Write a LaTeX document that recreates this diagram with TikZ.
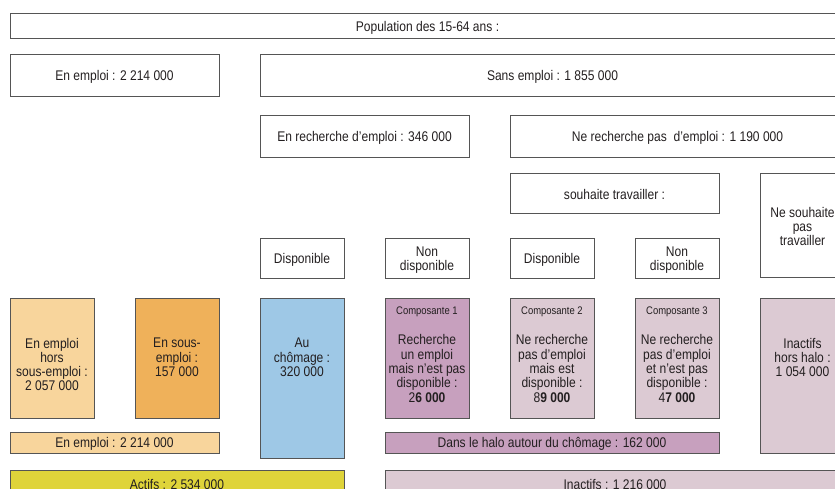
\documentclass[tikz,border=0pt]{standalone}
\usepackage{fontspec}
\setmainfont{Liberation Sans}[FakeStretch=0.86]
\definecolor{cpeach}{HTML}{F8D59C}
\definecolor{corange}{HTML}{EFB15A}
\definecolor{cblue}{HTML}{9EC8E6}
\definecolor{cpurple}{HTML}{C7A0BE}
\definecolor{cpink}{HTML}{DCCAD3}
\definecolor{cyellow}{HTML}{DFD43A}
\definecolor{cline}{HTML}{555555}
\definecolor{ctext}{HTML}{231F20}
\begin{document}
\begin{tikzpicture}[x=1pt,y=-1pt,
  box/.style={draw=cline, line width=0.8pt, inner sep=0pt, outer sep=0pt, anchor=north west},
  txt/.style={inner sep=0pt, align=center, text=ctext, font=\fontsize{14}{14.3}\selectfont},
  smalltxt/.style={inner sep=0pt, align=center, text=ctext, font=\fontsize{11}{13}\selectfont}]
\useasboundingbox (0,0) rectangle (835,489);
\clip (0,0) rectangle (835,489);
% row 1
\node[box, minimum width=835pt, minimum height=25pt] (pop) at (10,13) {};
\node[txt] (tpop) at (427.5,27.5) {Population des 15-64 ans :};
% row 2
\node[box, minimum width=209pt, minimum height=42pt] (emp) at (10,54) {};
\node[txt] (temp) at (114.5,76.5) {En emploi : 2 214 000};
\node[box, minimum width=585pt, minimum height=42pt] (sans) at (260,54) {};
\node[txt] (tsans) at (552.5,76.5) {Sans emploi : 1 855 000};
% row 3
\node[box, minimum width=209pt, minimum height=42pt] (rech) at (260,115) {};
\node[txt] (trech) at (364.5,137.5) {En recherche d’emploi : 346 000};
\node[box, minimum width=335pt, minimum height=42pt] (nrech) at (510,115) {};
\node[txt] (tnrech) at (677.5,137.5) {Ne recherche pas\ \ d’emploi : 1 190 000};
% row 4
\node[box, minimum width=209pt, minimum height=40pt] (souh) at (510,173) {};
\node[txt] (tsouh) at (614.5,194.5) {souhaite travailler :};
\node[box, minimum width=85pt, minimum height=104pt] (nsouh) at (760,173) {};
\node[txt] (tnsouh) at (802.5,226.5) {Ne souhaite\\pas\\travailler};
% row 5
\node[box, minimum width=84pt, minimum height=40pt] (d1) at (260,238) {};
\node[txt] (td1) at (302,259.5) {Disponible};
\node[box, minimum width=84pt, minimum height=40pt] (nd1) at (385,238) {};
\node[txt] (tnd1) at (427,260) {Non\\disponible};
\node[box, minimum width=84pt, minimum height=40pt] (d2) at (510,238) {};
\node[txt] (td2) at (552,259.5) {Disponible};
\node[box, minimum width=84pt, minimum height=40pt] (nd2) at (635,238) {};
\node[txt] (tnd2) at (677,260) {Non\\disponible};
% row 6
\node[box, fill=cpeach, minimum width=84pt, minimum height=120pt] (b1) at (10,298) {};
\node[txt] (tb1) at (52,364.5) {En emploi\\hors\\sous-emploi :\\2 057 000};
\node[box, fill=corange, minimum width=84pt, minimum height=120pt] (b2) at (135,298) {};
\node[txt] (tb2) at (177,357.5) {En sous-\\emploi :\\157 000};
\node[box, fill=cblue, minimum width=84pt, minimum height=160pt] (chom) at (260,298) {};
\node[txt] (tchom) at (302,357.5) {Au\\chômage :\\320 000};
\node[box, fill=cpurple, minimum width=84pt, minimum height=120pt] (c1) at (385,298) {};
\node[smalltxt] (lc1) at (427,311.5) {Composante 1};
\node[txt] (tc1) at (427,368.5) {Recherche\\un emploi\\mais n’est pas\\disponible :\\2\textbf{6 000}};
\node[box, fill=cpink, minimum width=84pt, minimum height=120pt] (c2) at (510,298) {};
\node[smalltxt] (lc2) at (552,311.5) {Composante 2};
\node[txt] (tc2) at (552,368.5) {Ne recherche\\pas d’emploi\\mais est\\disponible :\\8\textbf{9 000}};
\node[box, fill=cpink, minimum width=84pt, minimum height=120pt] (c3) at (635,298) {};
\node[smalltxt] (lc3) at (677,311.5) {Composante 3};
\node[txt] (tc3) at (677,368.5) {Ne recherche\\pas d’emploi\\et n’est pas\\disponible :\\4\textbf{7 000}};
\node[box, fill=cpink, minimum width=85pt, minimum height=155pt] (hh) at (760,298) {};
\node[txt] (thh) at (802.5,357.5) {Inactifs\\hors halo :\\1 054 000};
% bars
\node[box, fill=cpeach, minimum width=209pt, minimum height=21pt] (ebar) at (10,432) {};
\node[txt] (tebar) at (114.5,443.5) {En emploi : 2 214 000};
\node[box, fill=cpurple, minimum width=334pt, minimum height=21pt] (hbar) at (385,432) {};
\node[txt] (thbar) at (552,443.5) {Dans le halo autour du chômage : 162 000};
\node[box, fill=cyellow, minimum width=334pt, minimum height=30pt] (abar) at (10,470) {};
\node[txt] (tabar) at (177,484) {Actifs : 2 534 000};
\node[box, fill=cpink, minimum width=460pt, minimum height=30pt] (ibar) at (385,470) {};
\node[txt] (tibar) at (615,484) {Inactifs : 1 216 000};
\end{tikzpicture}
\end{document}
